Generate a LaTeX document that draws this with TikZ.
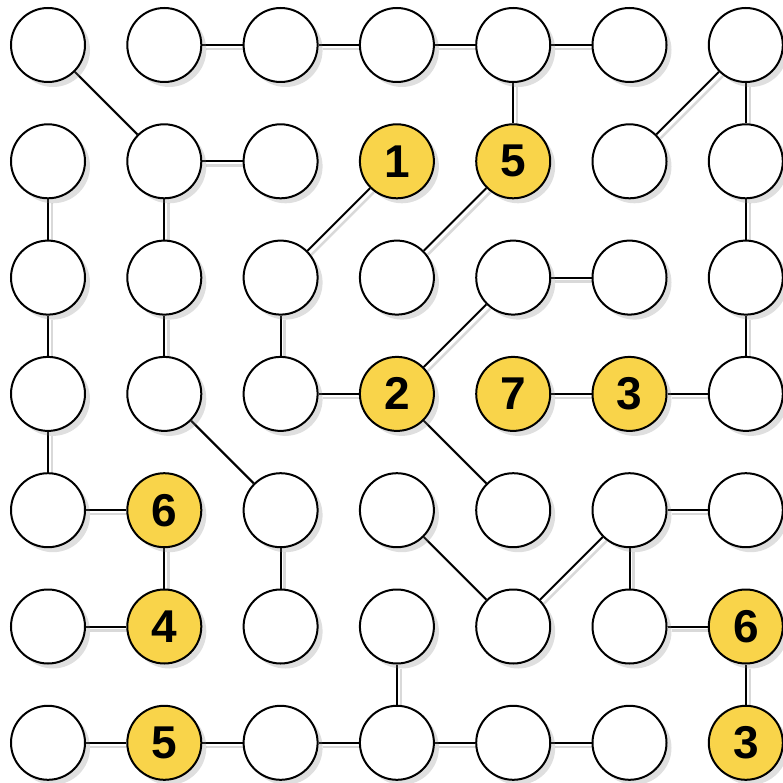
\documentclass[tikz,border=0pt]{standalone}
\usepackage{fontspec}
\newfontfamily\cluefont{Liberation Sans}
\usetikzlibrary{shadows,backgrounds}
\definecolor{clueyellow}{RGB}{249,212,74}
\def\blank{-}

\begin{document}
\begin{tikzpicture}[x=1pt, y=-1pt,
    spot/.style={circle, draw, line width=2pt, fill=white, minimum size=74pt, inner sep=0pt,
                 drop shadow={shadow xshift=5pt, shadow yshift=-5pt, opacity=0.25}},
    clue/.style={spot, fill=clueyellow, font=\cluefont\bfseries\fontsize{46}{46}\selectfont},
    link/.style={line width=2pt, black},
    linkshadow/.style={line width=2.5pt, black!15}]

        \useasboundingbox (0,0) rectangle (783,783);

        % the cells, row by row
        \foreach \row [count=\r from 0] in {{-,-,-,-,-,-,-},{-,-,-,1,5,-,-},{-,-,-,-,-,-,-},%
            {-,-,-,2,7,3,-},{-,6,-,-,-,-,-},{-,4,-,-,-,-,6},{-,5,-,-,-,-,3}} {
            \foreach \v [count=\c from 0] in \row {
                \ifx\v\blank
                    \node[spot] (n-\r-\c) at (48+116.3*\c, 45+116.3*\r) {};
                \else
                    \node[clue] (n-\r-\c) at (48+116.3*\c, 45+116.3*\r) {\v};
                \fi
            }
        }

        % connections
        \begin{scope}[on background layer]
            \foreach \a/\b/\c/\d in {0/1/0/2, 0/2/0/3, 0/3/0/4, 0/4/0/5, 0/0/1/1, 0/4/1/4, 0/6/1/5, 0/6/1/6,
                1/1/1/2, 1/0/2/0, 1/1/2/1, 1/3/2/2, 1/4/2/3, 1/6/2/6,
                2/4/2/5, 2/0/3/0, 2/1/3/1, 2/2/3/2, 2/4/3/3, 2/6/3/6,
                3/2/3/3, 3/4/3/5, 3/5/3/6, 3/0/4/0, 3/1/4/2, 3/3/4/4,
                4/0/4/1, 4/5/4/6, 4/1/5/1, 4/2/5/2, 4/3/5/4, 4/5/5/4, 4/5/5/5,
                5/0/5/1, 5/5/5/6, 5/3/6/3, 5/6/6/6,
                6/0/6/1, 6/1/6/2, 6/2/6/3, 6/3/6/4, 6/4/6/5} {
                \draw[linkshadow, transform canvas={xshift=4pt, yshift=-4pt}] (n-\a-\b) -- (n-\c-\d);
                \draw[link] (n-\a-\b) -- (n-\c-\d);
            }
        \end{scope}
    \end{tikzpicture}
\end{document}
